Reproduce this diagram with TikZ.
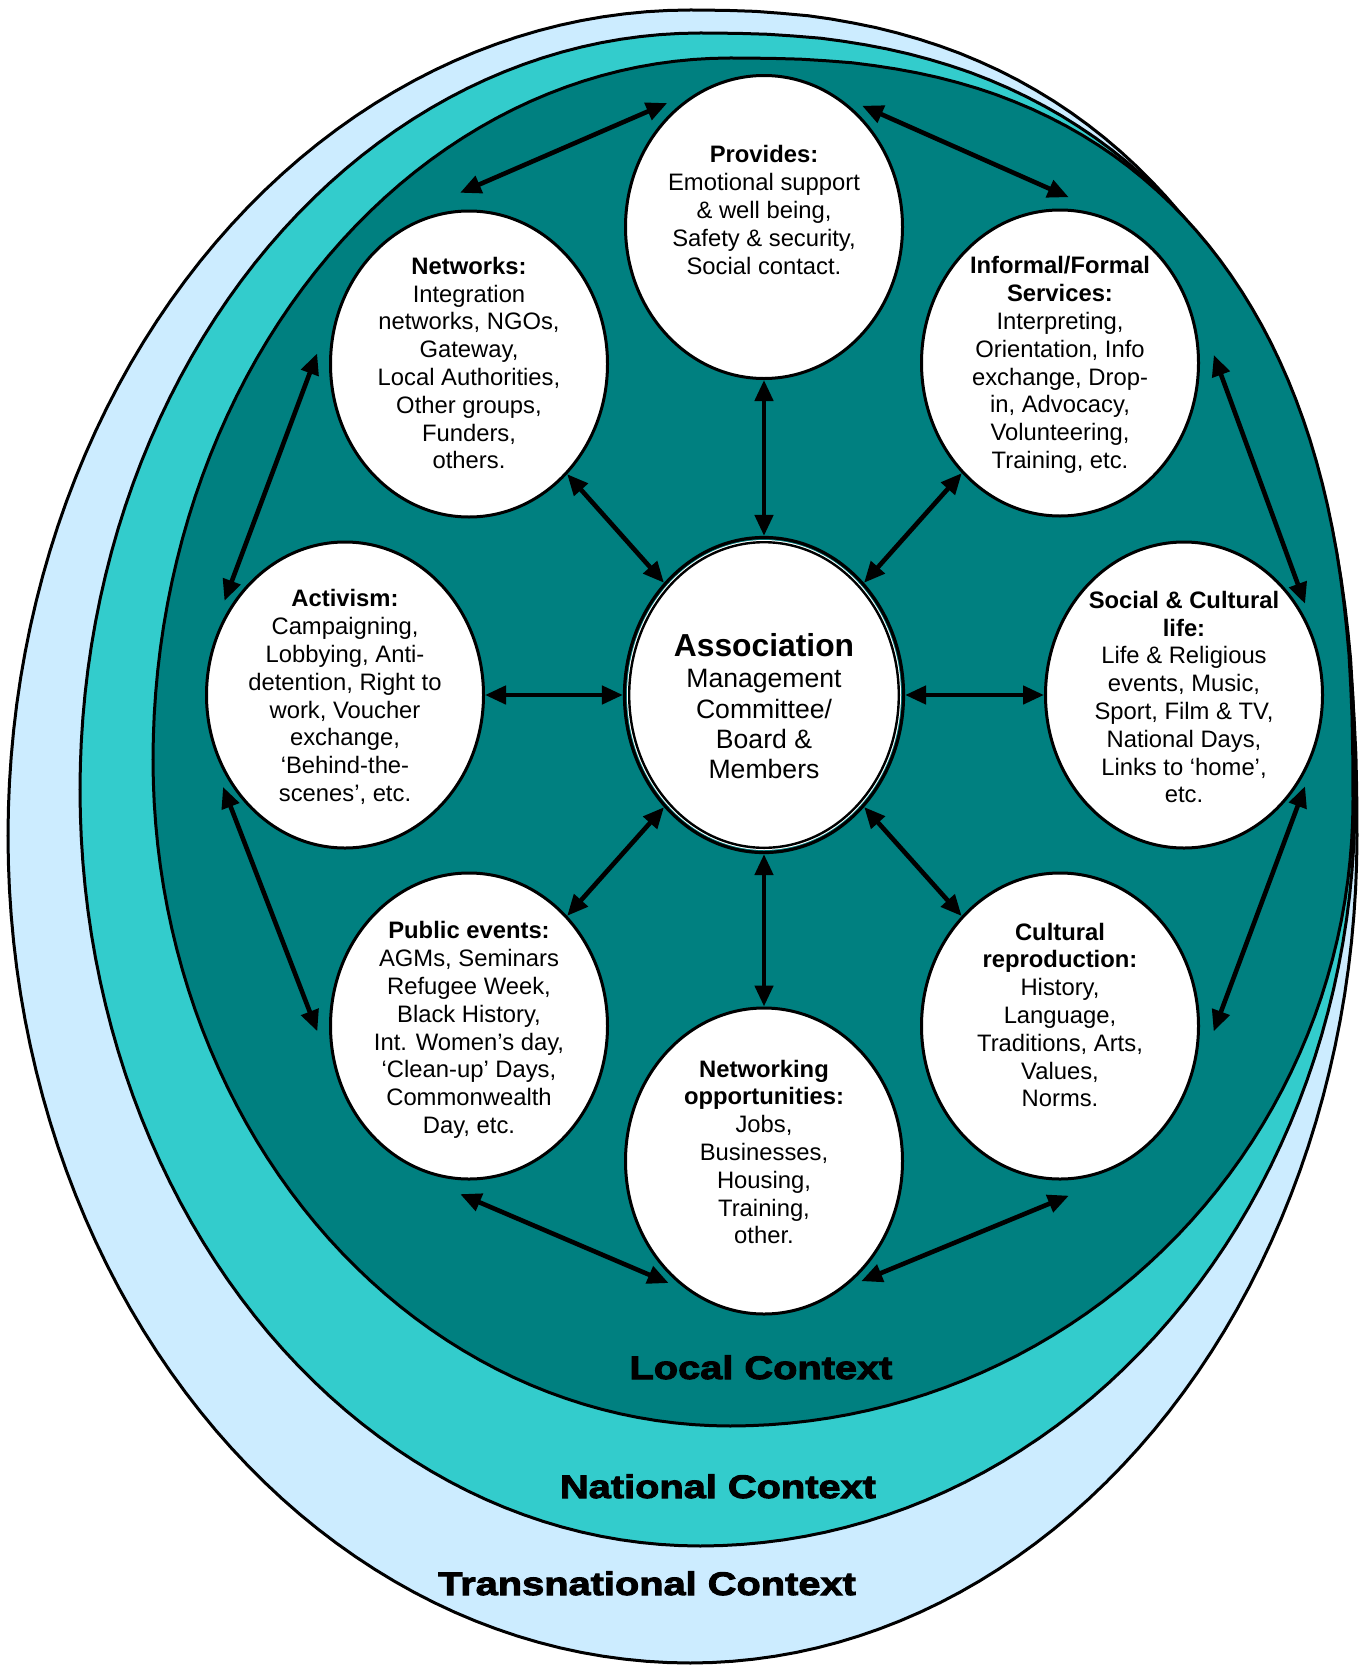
\documentclass[tikz,border=0pt]{standalone}
\usepackage{fontspec}
\setmainfont{Liberation Sans}
\newfontfamily\blackfont{Liberation Sans}[FakeStretch=1.22,BoldFeatures={FakeBold=3}]
\usetikzlibrary{arrows.meta,shapes.geometric,calc}
\definecolor{transblue}{HTML}{CCECFF}
\definecolor{natturq}{HTML}{33CCCC}
\definecolor{localteal}{HTML}{008080}
% context layer: four super-elliptic quarters, parameters set by \def before the call
\newcommand\ctxdraw[1]{%
 \filldraw[ctx,fill=#1]
 plot[domain=0:90,samples=50] ({\Scx-(\Scx-\Sleft)*max(sin(\x),0.00001)^(2/\SnUL)},{\SymL-(\SymL-\Stop)*max(cos(\x),0.00001)^(2/\SnUL)})
 -- plot[domain=0:90,samples=50] ({\Scx-(\Scx-\Sleft)*max(cos(\x),0.00001)^(2/\SnLL)},{\SymL+(\Sbot-\SymL)*max(sin(\x),0.00001)^(2/\SnLL)})
 -- plot[domain=0:90,samples=50] ({\Scx+(\Sright-\Scx)*max(sin(\x),0.00001)^(2/\SnLR)},{\SymR+(\Sbot-\SymR)*max(cos(\x),0.00001)^(2/\SnLR)})
 -- plot[domain=0:90,samples=50] ({\Scx+(\Sright-\Scx)*max(cos(\x),0.00001)^(2/\SnUR)},{\SymR-(\SymR-\Stop)*max(sin(\x),0.00001)^(2/\SnUR)})
 -- cycle;}
\tikzset{
 ctx/.style={draw=black, line width=1.5pt},
 bubble/.style={ellipse, draw=black, line width=1.5pt, fill=white, inner sep=0pt, minimum width=138.5pt, minimum height=153pt},
 lbl/.style={align=center, font=\fontsize{11.9}{13.9}\selectfont, inner sep=0pt},
 ctxlbl/.style={anchor=base, font=\blackfont\bfseries\fontsize{16.3}{18}\selectfont, inner sep=0pt},
 link/.style={line width=2.3pt, arrows={Triangle[length=10.5pt,width=9pt]-Triangle[length=10.5pt,width=9pt]}},
}
\begin{document}
\begin{tikzpicture}[x=0.5pt,y=-0.5pt]
\useasboundingbox[fill=white] (0,0) rectangle (1359,1665);
% transnational
\def\Scx{690}\def\Stop{10}\def\Sbot{1663}\def\Sleft{8}\def\Sright{1357}\def\SymL{836}\def\SymR{836}
\def\SnUL{2}\def\SnLL{2}\def\SnLR{2}\def\SnUR{2.35}
\ctxdraw{transblue}
% national
\def\Scx{700}\def\Stop{33}\def\Sbot{1546}\def\Sleft{80}\def\Sright{1355}\def\SymL{790}\def\SymR{800}
\def\SnUL{2}\def\SnLL{2}\def\SnLR{2}\def\SnUR{2.4}
\ctxdraw{natturq}
% local
\def\Scx{730}\def\Stop{58}\def\Sbot{1426}\def\Sleft{153}\def\Sright{1353}\def\SymL{760}\def\SymR{800}
\def\SnUL{2}\def\SnLL{2}\def\SnLR{2}\def\SnUR{2.5}
\ctxdraw{localteal}
% bubbles
\node[bubble, minimum height=151.5pt] (prov) at (764,227) {};
\node[bubble] (net) at (469,364) {};
\node[bubble] (inf) at (1060,363) {};
\node[bubble] (act) at (345,695) {};
\node[bubble] (soc) at (1184,695) {};
\node[bubble] (pub) at (469,1026) {};
\node[bubble] (cul) at (1060,1026) {};
\node[bubble] (nwk) at (764,1161) {};
\node[ellipse, draw=black, line width=1.6pt, inner sep=0pt, minimum width=139.5pt, minimum height=157.5pt] (assoc) at (764,695) {};
\node[ellipse, draw=black, line width=1.2pt, fill=white, preaction={draw=white,line width=2.2pt}, inner sep=0pt, minimum width=134.8pt, minimum height=152.8pt] (associn) at (764,695) {};
% spokes
\draw[link] (assoc) -- (prov);
\draw[link] (assoc) -- (net);
\draw[link] (assoc) -- (inf);
\draw[link] (assoc) -- (act);
\draw[link] (assoc) -- (soc);
\draw[link] (assoc) -- (pub);
\draw[link] (assoc) -- (cul);
\draw[link] (assoc) -- (nwk);
% ring
\draw[link] ($(prov.center)!1.065!(prov.128)$) -- ($(net.center)!1.11!(net.93)$);
\draw[link] ($(prov.center)!1.058!(prov.51)$) -- ($(inf.center)!1.075!(inf.87)$);
\draw[link] ($(inf.center)!1.10!(inf.3)$) -- ($(soc.center)!1.047!(soc.37)$);
\draw[link] ($(net.center)!1.087!(net.176)$) -- ($(act.center)!1.055!(act.142)$);
\draw[link] ($(act.center)!1.055!(act.217)$) -- ($(pub.center)!1.084!(pub.182)$);
\draw[link] ($(soc.center)!1.047!(soc.323)$) -- ($(cul.center)!1.098!(cul.358)$);
\draw[link] ($(pub.center)!1.09!(pub.267)$) -- ($(nwk.center)!1.043!(nwk.232)$);
\draw[link] ($(nwk.center)!1.043!(nwk.309)$) -- ($(cul.center)!1.10!(cul.273)$);
% texts
\node[lbl] (provT) at (764,210) {\textbf{Provides:}\\Emotional support\\\& well being,\\Safety \& security,\\Social contact.};
\node[lbl] (netT) at (469,363) {\textbf{Networks:}\\Integration\\networks, NGOs,\\Gateway,\\Local Authorities,\\Other groups,\\Funders,\\others.};
\node[lbl] (infT) at (1060,365) {\textbf{Informal/Formal}\\\textbf{Services:}\\Interpreting,\\Orientation, Info\\exchange, Drop-\\in, Advocacy,\\Volunteering,\\Training, etc.};
\node[lbl] (actT) at (345,697) {\textbf{Activism:}\\Campaigning,\\Lobbying, Anti-\\detention, Right to\\work, Voucher\\exchange,\\‘Behind-the-\\scenes’, etc.};
\node[lbl] (socT) at (1184,697) {\textbf{Social \& Cultural}\\\textbf{life:}\\Life \& Religious\\events, Music,\\Sport, Film \& TV,\\National Days,\\Links to ‘home’,\\etc.};
\node[lbl] (pubT) at (469,1030) {\textbf{Public events:}\\AGMs, Seminars\\Refugee Week,\\Black History,\\Int. Women’s day,\\‘Clean-up’ Days,\\Commonwealth\\Day, etc.};
\node[lbl] (culT) at (1060,1015) {\textbf{Cultural}\\\textbf{reproduction:}\\History,\\Language,\\Traditions, Arts,\\Values,\\Norms.};
\node[lbl] (nwkT) at (764,1152) {\textbf{Networking}\\\textbf{opportunities:}\\Jobs,\\Businesses,\\Housing,\\Training,\\other.};
\node[lbl, font=\fontsize{13.3}{15.2}\selectfont] (assocT) at (764,706) {{\fontsize{15.9}{16}\selectfont\bfseries Association}\\[0.6pt]Management\\Committee/\\Board \&\\Members};
% context labels
\node[ctxlbl] (localL) at (761,1379) {Local Context};
\node[ctxlbl] (natL) at (718,1498) {National Context};
\node[ctxlbl] (transL) at (647,1595) {Transnational Context};
\end{tikzpicture}
\end{document}
